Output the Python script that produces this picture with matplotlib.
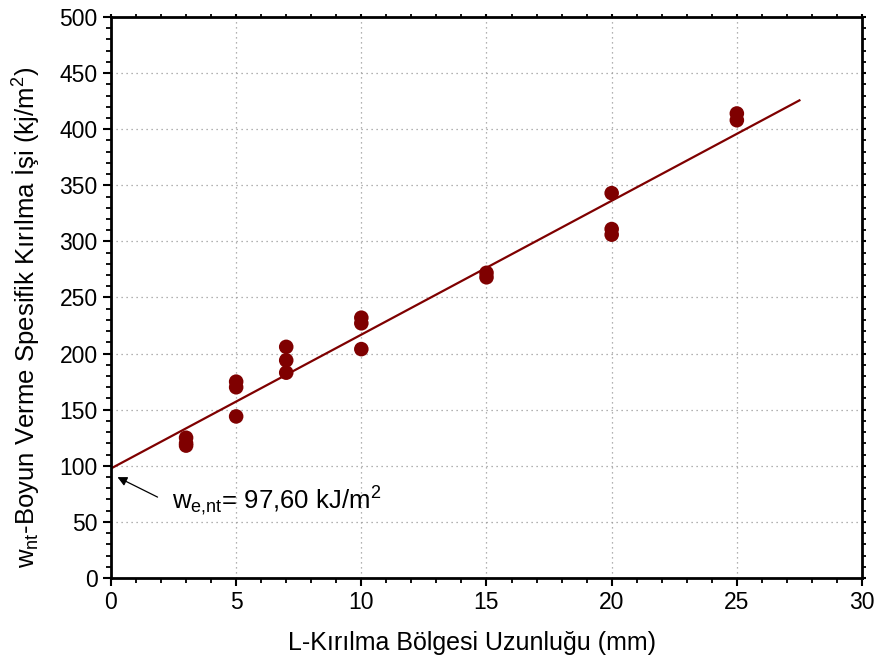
import matplotlib.pyplot as plt
import numpy as np
import matplotlib.ticker as ticker

plt.rcParams['font.family'] = ['Liberation Sans', 'DejaVu Sans']
plt.rcParams['mathtext.default'] = 'regular'

# measured points: L (mm) vs w_nt (kJ/m2)
L_mm = [3, 3, 3, 5, 5, 5, 7, 7, 7, 10, 10, 10, 15, 15, 20, 20, 20, 25, 25]
w_nt = [125, 120, 118, 175, 170, 144, 206, 194, 183, 232, 227, 204,
        272, 268, 343, 311, 306, 414, 408]

# linear fit shown in the figure
intercept = 97.60
slope = 11.93
fit_range = [0, 27.5]

dark_red = '#7f0000'

fig = plt.figure(figsize=(8.78, 6.63), dpi=100)
ax = fig.add_axes([0.1264, 0.1282, 0.8554, 0.8462])

ax.scatter(L_mm, w_nt, s=110, color=dark_red, zorder=3, edgecolors='none')
xs = np.array(fit_range)
ax.plot(xs, intercept + slope * xs, color=dark_red, lw=1.6, zorder=2)

ax.set_xlim(0, 30)
ax.set_ylim(0, 500)
ax.xaxis.set_major_locator(ticker.MultipleLocator(5))
ax.xaxis.set_minor_locator(ticker.MultipleLocator(1))
ax.yaxis.set_major_locator(ticker.MultipleLocator(50))
ax.yaxis.set_minor_locator(ticker.MultipleLocator(10))

ax.grid(which='major', linestyle=(0, (1, 3)), linewidth=0.9, color='#999999')
ax.tick_params(which='major', direction='out', length=6, width=1.5, labelsize=16.5)
ax.tick_params(which='minor', direction='out', length=3.5, width=1.3)
ax.tick_params(which='both', top=True, right=True, labeltop=False, labelright=False)
# top / right ticks kept very short
for t in ax.xaxis.get_ticklines(minor=True)[1::2] + ax.xaxis.get_ticklines()[1::2]:
    t.set_markersize(2)
for t in ax.yaxis.get_ticklines(minor=True)[1::2] + ax.yaxis.get_ticklines()[1::2]:
    t.set_markersize(3)
for sp in ax.spines.values():
    sp.set_linewidth(2)

ax.set_xlabel('L-Kırılma Bölgesi Uzunluğu (mm)', fontsize=18)
ax.set_ylabel('w$_{nt}$-Boyun Verme Spesifik Kırılma İşi (kj/m$^2$)', fontsize=18.5)
ax.xaxis.set_label_coords(0.481, -0.094)
ax.yaxis.set_label_coords(-0.091, 0.465)

ax.annotate('', xy=(0.16, 91), xytext=(1.96, 71),
            arrowprops=dict(arrowstyle='-|>', color='black', lw=0.9,
                            mutation_scale=14))
ax.text(2.44, 62, 'w$_{e{,}nt}$= 97,60 kJ/m$^2$', fontsize=18.5, va='baseline', ha='left')

fig.savefig('out.png', dpi=100)
